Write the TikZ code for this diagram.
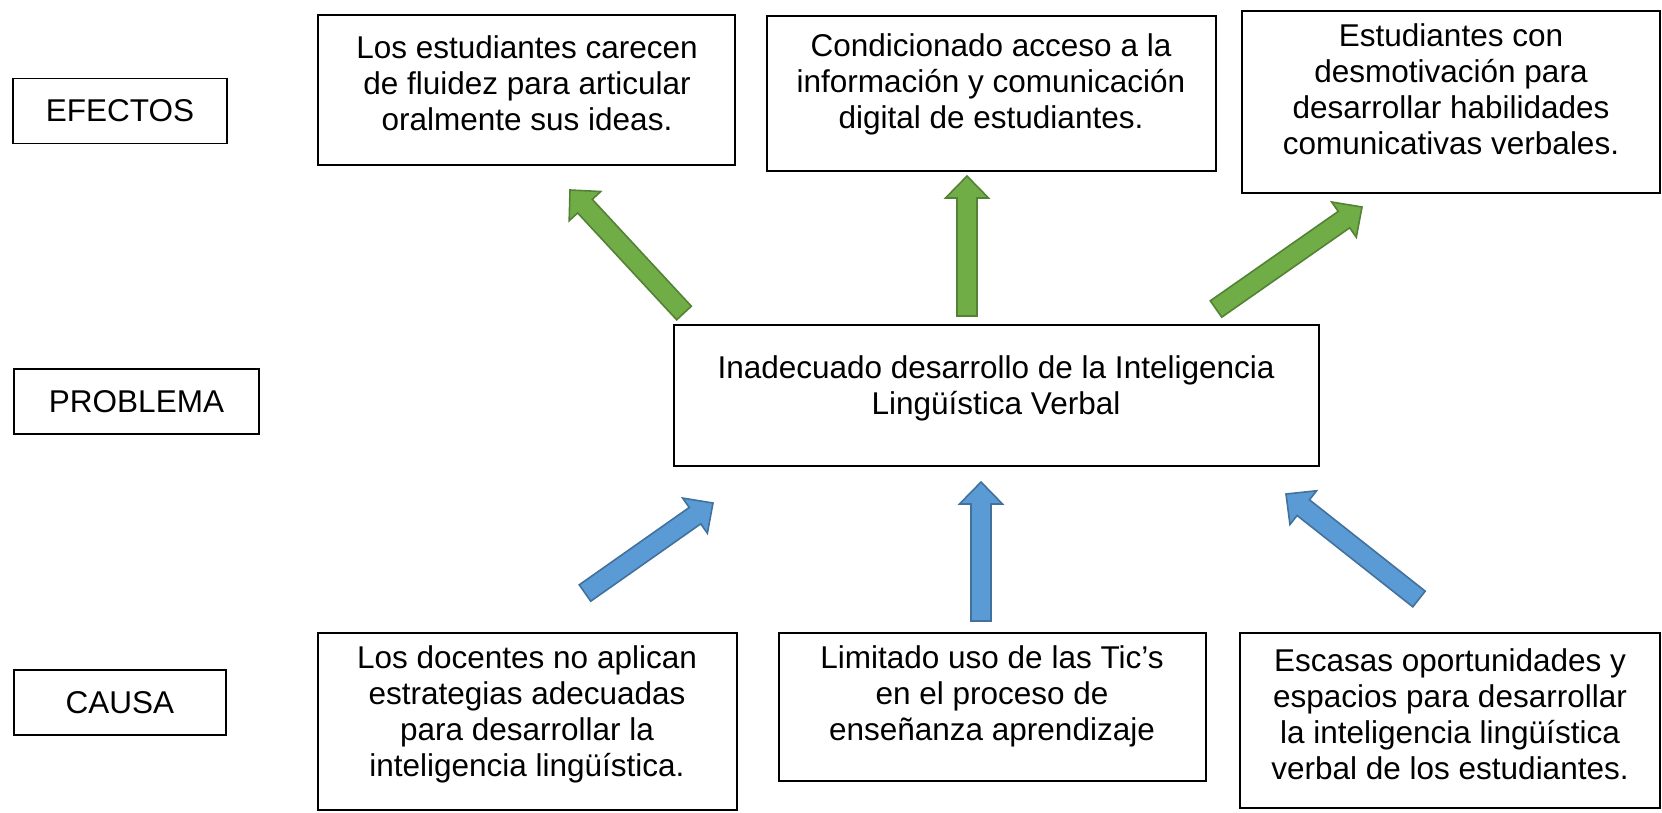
\documentclass[tikz,border=0pt]{standalone}
\usepackage{fontspec}
\setmainfont{Liberation Sans}
\usetikzlibrary{calc}
\definecolor{gfill}{HTML}{70AD47}
\definecolor{gline}{HTML}{548235}
\definecolor{bfill}{HTML}{5B9BD5}
\definecolor{bline}{HTML}{41719C}
\tikzset{
  box/.style={draw=black, line width=1.8pt, inner sep=0pt, outer sep=0pt},
  txt/.style={align=center, inner sep=0pt, font=\fontsize{31.5}{36}\selectfont},
  garrow/.style={fill=gfill, draw=gline, line width=1.6pt, line join=miter},
  barrow/.style={fill=bfill, draw=bline, line width=1.6pt, line join=miter}
}
\newcommand\fatarrow[3]{%
  \coordinate (fab) at ($(#2)!22pt!(#1)$);
  \draw[#3] ($(#1)!10pt!90:(#2)$) -- ($(fab)!10pt!90:(#2)$) -- ($(fab)!21.5pt!90:(#2)$) -- (#2)
    -- ($(fab)!21.5pt!-90:(#2)$) -- ($(fab)!10pt!-90:(#2)$) -- ($(#1)!10pt!-90:(#2)$) -- cycle;
}
\begin{document}
\begin{tikzpicture}[x=1pt, y=-1pt]
\useasboundingbox (0,0) rectangle (1662,812);
% side labels
\node[box, minimum width=214pt, minimum height=65pt] (lab1) at (120,111) {};
\node[txt] (lab1t) at (lab1.center) {EFECTOS};
\node[box, minimum width=245pt, minimum height=65pt] (lab2) at (136.5,401.5) {};
\node[txt] (lab2t) at (lab2.center) {PROBLEMA};
\node[box, minimum width=212pt, minimum height=65pt] (lab3) at (120,702.5) {};
\node[txt] (lab3t) at (lab3.center) {CAUSA};
% effects
\node[box, minimum width=417pt, minimum height=150pt] (e1) at (526.5,90) {};
\node[txt] (e1t) at (527,83) {Los estudiantes carecen\\de fluidez para articular\\oralmente sus ideas.};
\node[box, minimum width=449pt, minimum height=155pt] (e2) at (991.5,93.5) {};
\node[txt] (e2t) at (991,84) {Condicionado acceso a la\\información y comunicación\\digital de estudiantes.};
\node[box, minimum width=418pt, minimum height=182pt] (e3) at (1451,102) {};
\node[txt] (e3t) at (1451,89) {Estudiantes con\\desmotivación para\\desarrollar habilidades\\comunicativas verbales.};
% problem
\node[box, minimum width=645pt, minimum height=141pt] (p) at (996.5,395.5) {};
\node[txt] (pt) at (996,388) {Inadecuado desarrollo de la Inteligencia\\Lingüística Verbal};
% causes
\node[box, minimum width=419pt, minimum height=177pt] (c1) at (527.5,721.5) {};
\node[txt] (c1t) at (527,714) {Los docentes no aplican\\estrategias adecuadas\\para desarrollar la\\inteligencia lingüística.};
\node[box, minimum width=427pt, minimum height=148pt] (c2) at (992.5,707) {};
\node[txt] (c2t) at (992,696) {Limitado uso de las Tic’s\\en el proceso de\\enseñanza aprendizaje};
\node[box, minimum width=420pt, minimum height=175pt] (c3) at (1450,720.5) {};
\node[txt] (c3t) at (1450,714) {Escasas oportunidades y\\espacios para desarrollar\\la inteligencia lingüística\\verbal de los estudiantes.};
% arrow end points
\coordinate (g1s) at (684,313); \coordinate (g1t) at (570,190);
\coordinate (g2s) at (967,316); \coordinate (g2t) at (967,176);
\coordinate (g3s) at (1216,309); \coordinate (g3t) at (1362,207);
\coordinate (b1s) at (585,593); \coordinate (b1t) at (713,503);
\coordinate (b2s) at (981,621); \coordinate (b2t) at (981,482);
\coordinate (b3s) at (1419,599); \coordinate (b3t) at (1286,494);
\fatarrow{g1s}{g1t}{garrow}
\fatarrow{g2s}{g2t}{garrow}
\fatarrow{g3s}{g3t}{garrow}
\fatarrow{b1s}{b1t}{barrow}
\fatarrow{b2s}{b2t}{barrow}
\fatarrow{b3s}{b3t}{barrow}
\end{tikzpicture}
\end{document}
